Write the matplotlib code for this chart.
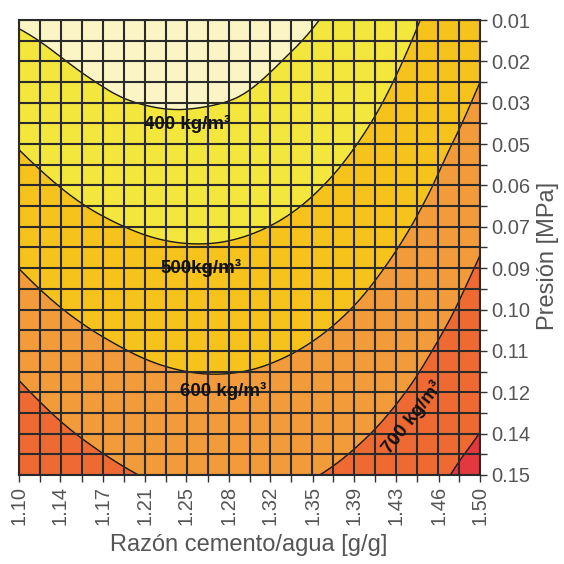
import numpy as np
import matplotlib
matplotlib.use("Agg")
import matplotlib.pyplot as plt
import matplotlib.tri as mtri

# ---- data ----
ratio_vals = [1.100, 1.136, 1.173, 1.209, 1.245, 1.282, 1.318, 1.355, 1.391, 1.427, 1.464, 1.500]
pressure_vals = [0.0100, 0.0227, 0.0355, 0.0482, 0.0609, 0.0736, 0.0864, 0.0991, 0.1118, 0.1245, 0.1373, 0.1500]
x_tick_labels = ["1.10", "1.14", "1.17", "1.21", "1.25", "1.28", "1.32", "1.35", "1.39", "1.43", "1.46", "1.50"]
y_tick_labels = ["0.01", "0.02", "0.03", "0.05", "0.06", "0.07", "0.09", "0.10", "0.11", "0.12", "0.14", "0.15"]

# estimated density [kg/m3]; rows = pressure (top to bottom), cols = ratio
density = [
    [391.0, 373.5, 355.7, 346.4, 345.8, 353.7, 370.3, 395.4, 429.2, 471.5, 522.4, 572.0],
    [430.8, 403.2, 384.3, 373.9, 372.2, 379.0, 394.5, 418.5, 451.1, 492.3, 542.1, 590.0],
    [462.6, 433.9, 410.9, 398.4, 395.5, 401.2, 416.6, 442.5, 474.0, 514.1, 562.8, 610.0],
    [495.4, 465.6, 444.4, 431.8, 427.8, 432.4, 445.6, 467.4, 497.8, 536.7, 584.3, 632.0],
    [529.2, 498.3, 476.0, 462.3, 457.1, 460.6, 472.7, 493.4, 522.6, 560.5, 606.9, 662.0],
    [563.8, 531.8, 508.4, 493.6, 487.3, 489.7, 500.6, 520.2, 548.4, 585.1, 630.4, 684.3],
    [599.6, 566.5, 541.9, 526.0, 518.6, 519.9, 529.7, 548.2, 575.2, 610.8, 655.1, 707.9],
    [636.2, 602.0, 576.3, 559.3, 550.8, 550.9, 559.7, 577.0, 602.9, 637.4, 680.5, 732.2],
    [673.9, 638.6, 611.8, 593.6, 584.0, 583.0, 590.7, 606.9, 631.7, 665.1, 707.0, 757.6],
    [710.5, 674.0, 646.1, 626.8, 616.1, 614.0, 620.5, 635.6, 659.2, 691.5, 732.4, 781.8],
    [749.1, 711.5, 682.5, 662.1, 650.3, 647.1, 652.4, 666.4, 689.0, 720.1, 759.9, 801.0],
    [787.7, 748.9, 718.8, 697.3, 684.3, 680.0, 684.3, 697.1, 718.6, 748.6, 787.2, 834.5],
]

levels = [300, 400, 500, 600, 700, 800, 900]
fill_colors = ["#FBF5C6", "#F3E63C", "#F6C31C", "#F29B3A", "#EE6A32", "#E5383E"]
line_levels = [400, 500, 600, 700, 800]

# contour label texts and their positions (ratio, pressure, rotation)
label_texts = ["400 kg/m\u00b3", "500kg/m\u00b3", "600 kg/m\u00b3", "700 kg/m\u00b3"]
label_pos = [(1.246, 0.0419, 0), (1.258, 0.0864, 0), (1.277, 0.1241, 0), (1.441, 0.1324, 52)]

# ---- figure ----
W, H = 564, 564
fig = plt.figure(figsize=(W / 100, H / 100), dpi=100)
ax = fig.add_axes([19 / W, 1 - 475 / H, 461 / W, 455 / H])

X, Y = np.meshgrid(ratio_vals, pressure_vals)
Z = np.array(density)
# smooth rendering of the surface using matplotlib's triangulation refiner
tri = mtri.Triangulation(X.ravel(), Y.ravel())
refiner = mtri.UniformTriRefiner(tri)
tri_r, z_r = refiner.refine_field(Z.ravel(), subdiv=3)
ax.tricontourf(tri_r, z_r, levels=levels, colors=fill_colors)
ax.tricontour(tri_r, z_r, levels=line_levels, colors="#1a1a1a", linewidths=1.0)

# grid of 22 x 22 cells
xmin, xmax = ratio_vals[0], ratio_vals[-1]
ymin, ymax = pressure_vals[0], pressure_vals[-1]
ncell = 22
gx = np.linspace(xmin, xmax, ncell + 1)
gy = np.linspace(ymin, ymax, ncell + 1)
for v in gx:
    ax.axvline(v, color="#2a2a2a", lw=1.5, zorder=3)
for v in gy:
    ax.axhline(v, color="#2a2a2a", lw=1.5, zorder=3)

ax.set_xlim(xmin, xmax)
ax.set_ylim(ymax, ymin)

tick_font = dict(family="Liberation Sans", size=14.5, color="#555555")
ax.set_xticks(ratio_vals)
ax.set_xticklabels(x_tick_labels, rotation=90, fontdict=tick_font)
ax.set_xticks(gx[1::2], minor=True)
ax.yaxis.tick_right()
ax.set_yticks(pressure_vals)
ax.set_yticklabels(y_tick_labels, fontdict=tick_font)
ax.set_yticks(gy[1::2], minor=True)
ax.tick_params(axis="both", which="both", direction="out", length=5, width=1.0, color="#333333", pad=3)
ax.tick_params(axis="x", which="both", bottom=True, top=False)
ax.tick_params(axis="y", which="both", right=True, left=False)
for s in ax.spines.values():
    s.set_color("#2a2a2a")
    s.set_linewidth(1.5)

for txt, (lx, ly, rot) in zip(label_texts, label_pos):
    ax.text(lx, ly, txt, ha="center", va="center", rotation=rot, rotation_mode="anchor",
            family="Liberation Sans", weight="bold", size=13.5, color="#111111", zorder=5)

fig.text(249 / W, 1 - 545 / H, "Razón cemento/agua [g/g]", ha="center", va="center",
         family="Liberation Sans", size=17, color="#555555")
fig.text(548 / W, 1 - 256 / H, "Presión [MPa]", ha="center", va="center", rotation=90,
         family="Liberation Sans", size=17, color="#555555")

fig.savefig("out.png", dpi=100)
